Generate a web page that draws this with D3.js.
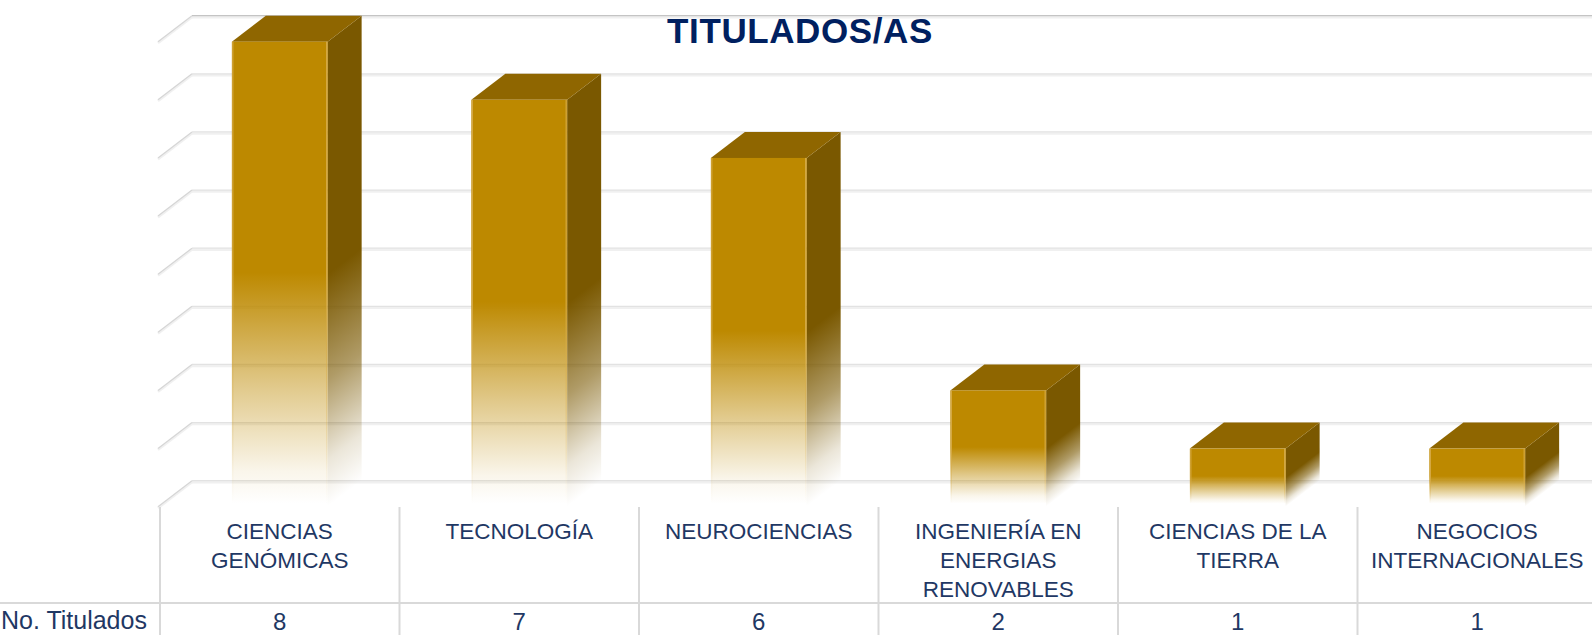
<!DOCTYPE html>
<html>
<head>
<meta charset="utf-8">
<script src="https://cdn.jsdelivr.net/npm/d3@7"></script>
<style>
  html, body { margin: 0; padding: 0; background: #fff; }
  svg { display: block; font-family: "Liberation Sans", Arial, sans-serif; }
</style>
</head>
<body>
<div id="chart"></div>
<script>
const chartTitle = "TITULADOS/AS";
const seriesName = "No. Titulados";
const categories = [
  "CIENCIAS GENÓMICAS",
  "TECNOLOGÍA",
  "NEUROCIENCIAS",
  "INGENIERÍA EN ENERGIAS RENOVABLES",
  "CIENCIAS DE LA TIERRA",
  "NEGOCIOS INTERNACIONALES",
];
const titulados = [8, 7, 6, 2, 1, 1];
const yMax = 8;

const width = 1592;
const height = 635;
const plotLeft = 160;
const plotRight = 1597;
const floorY = 506.7;
const topY = 41.7;
const depthX = 34;
const depthY = -26;
const tableTop = 507;
const rowLine = 603;

const frontColor = "#bd8900";
const topColor = "#8f6600";
const sideColor = "#7a5800";
const edgeColor = "#d8ad4c";
const textColor = "#1f3864";
const gridColor = "#d9d9d9";

const svg = d3
  .select("#chart")
  .append("svg")
  .attr("width", width)
  .attr("height", height);

const defs = svg.append("defs");

const x = d3.scaleBand().domain(categories).range([plotLeft, plotRight]).paddingInner(0).paddingOuter(0);
const y = d3.scaleLinear().domain([0, yMax]).range([floorY, topY]);
const barWidth = x.bandwidth() * 0.4;

// Back wall gridlines + left wall diagonals
const grid = svg.append("g");
y.ticks(yMax).forEach((t) => {
  const yf = y(t);
  const yb = yf + depthY;
  const dark = t === yMax;
  grid.append("line")
    .attr("x1", plotLeft - 2 + depthX).attr("x2", width)
    .attr("y1", yb + 1.5).attr("y2", yb + 1.5)
    .attr("stroke", "#f0f0f0").attr("stroke-width", 2.5);
  grid.append("line")
    .attr("x1", plotLeft - 2 + depthX).attr("x2", width)
    .attr("y1", yb).attr("y2", yb)
    .attr("stroke", dark ? "#c4c4c4" : "#e2e2e2").attr("stroke-width", 1.3);
  grid.append("line")
    .attr("x1", plotLeft - 2).attr("y1", yf + 1.2)
    .attr("x2", plotLeft - 2 + depthX).attr("y2", yb + 1.2)
    .attr("stroke", "#f0f0f0").attr("stroke-width", 2.5);
  grid.append("line")
    .attr("x1", plotLeft - 2).attr("y1", yf)
    .attr("x2", plotLeft - 2 + depthX).attr("y2", yb)
    .attr("stroke", "#d6d6d6").attr("stroke-width", 1.2);
});

// Front face fade (fill and edge)
const fadeStops = [[0, 1], [0.5, 1], [0.75, 0.45], [0.93, 0.08], [1, 0]];
const addFade = (id, color) => {
  const gr = defs.append("linearGradient")
    .attr("id", id)
    .attr("x1", 0).attr("y1", 0).attr("x2", 0).attr("y2", 1);
  fadeStops.forEach(([o, a]) => {
    gr.append("stop").attr("offset", o).attr("stop-color", color).attr("stop-opacity", a);
  });
};
addFade("frontGrad", frontColor);
addFade("edgeGrad", edgeColor);

// Draw bars
const bars = svg.append("g")
  .selectAll("g")
  .data(categories.map((c, i) => ({ cat: c, value: titulados[i], i })))
  .enter()
  .append("g");

bars.each(function (d) {
  const g = d3.select(this);
  const x0 = x(d.cat) + (x.bandwidth() - barWidth) / 2;
  const x1 = x0 + barWidth;
  const yt = y(d.value);
  const y0 = y(0);
  const h = y0 - yt;

  // side face gradient follows the slanted bottom edge
  const len2 = depthX * depthX + depthY * depthY;
  const t = ((h / 2) * depthX) / len2;
  const px = x1, py = yt + h / 2;
  const sg = defs.append("linearGradient")
    .attr("id", "sideGrad" + d.i)
    .attr("gradientUnits", "userSpaceOnUse")
    .attr("x1", px).attr("y1", py)
    .attr("x2", px + t * -depthY).attr("y2", py + t * depthX);
  [[0, 1], [0.45, 0.6], [0.8, 0.15], [1, 0]].forEach(([o, a]) => {
    sg.append("stop").attr("offset", o).attr("stop-color", sideColor).attr("stop-opacity", a);
  });

  g.append("path")
    .attr("d", `M${x1},${yt} L${x1 + depthX},${yt + depthY} L${x1 + depthX},${y0 + depthY} L${x1},${y0} Z`)
    .attr("fill", `url(#sideGrad${d.i})`);

  g.append("path")
    .attr("d", `M${x0},${yt} L${x0 + depthX},${yt + depthY} L${x1 + depthX},${yt + depthY} L${x1},${yt} Z`)
    .attr("fill", topColor);

  g.append("rect")
    .attr("x", x0).attr("y", yt)
    .attr("width", barWidth).attr("height", h - 3)
    .attr("fill", "url(#frontGrad)");

  // thin light edges on the front face, fading with it
  g.append("rect")
    .attr("x", x0 + 0.5).attr("y", yt)
    .attr("width", 1).attr("height", h - 3)
    .attr("fill", "url(#edgeGrad)");
  g.append("rect")
    .attr("x", x1 - 1.5).attr("y", yt)
    .attr("width", 1).attr("height", h - 3)
    .attr("fill", "url(#edgeGrad)");
});

// Title
svg.append("text")
  .attr("x", 800).attr("y", 43)
  .attr("text-anchor", "middle")
  .attr("font-size", 35)
  .attr("font-weight", "bold")
  .attr("letter-spacing", 0.6)
  .attr("fill", "#002060")
  .text(chartTitle);

// Data table
const table = svg.append("g");
const bounds = categories.map((c) => x(c)).concat([x.range()[1]]);
bounds.forEach((bx) => {
  table.append("line")
    .attr("x1", bx).attr("x2", bx)
    .attr("y1", tableTop).attr("y2", height)
    .attr("stroke", gridColor).attr("stroke-width", 2);
});
table.append("line")
  .attr("x1", 0).attr("x2", width)
  .attr("y1", rowLine).attr("y2", rowLine)
  .attr("stroke", gridColor).attr("stroke-width", 2);

const wrap = (text, maxWidth) => {
  const words = text.split(" ");
  const probe = svg.append("text").attr("font-size", 22.5);
  const lines = [];
  let line = [];
  words.forEach((w) => {
    const trial = line.concat([w]).join(" ");
    probe.text(trial);
    if (line.length && probe.node().getComputedTextLength() > maxWidth) {
      lines.push(line.join(" "));
      line = [w];
    } else {
      line.push(w);
    }
  });
  lines.push(line.join(" "));
  probe.remove();
  return lines;
};

categories.forEach((c) => {
  const cx = x(c) + x.bandwidth() / 2;
  const label = table.append("text")
    .attr("text-anchor", "middle")
    .attr("font-size", 22.5)
    .attr("fill", textColor);
  wrap(c, x.bandwidth() - 6).forEach((ln, k) => {
    label.append("tspan").attr("x", cx).attr("y", 539 + k * 29).text(ln);
  });
});

table.append("text")
  .attr("x", 1).attr("y", 629)
  .attr("font-size", 25)
  .attr("fill", textColor)
  .text(seriesName);

categories.forEach((c, i) => {
  table.append("text")
    .attr("x", x(c) + x.bandwidth() / 2)
    .attr("y", 629.5)
    .attr("text-anchor", "middle")
    .attr("font-size", 24)
    .attr("fill", textColor)
    .text(titulados[i]);
});
</script>
</body>
</html>
